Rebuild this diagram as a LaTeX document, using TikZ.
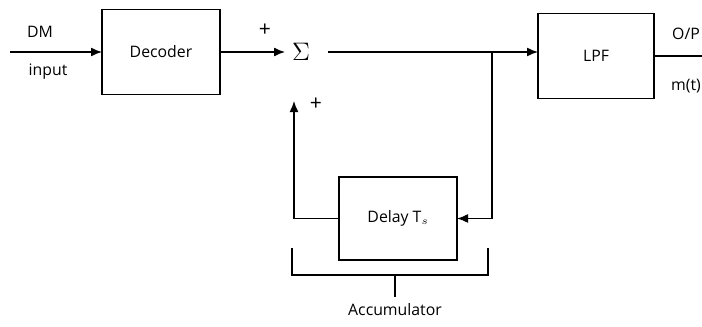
\documentclass[tikz,border=0pt]{standalone}
\usepackage{fontspec}
\setmainfont{Open Sans}
\usepackage{tikz}
\usetikzlibrary{positioning,arrows.meta,calc}

\begin{document}
\begin{tikzpicture}[
  font=\small,
  every node/.style={inner sep=0pt,outer sep=0pt},
  blk/.style={draw,line width=0.8pt,minimum width=2.36cm,
    minimum height=1.70cm,align=center},
  wire/.style={line width=0.8pt},
  sig/.style={wire,-{Latex[length=2.2mm,width=1.8mm]}},
  lbl/.style={font=\small},
]
\useasboundingbox (0,0) rectangle (14.04,6.52);

% blocks
\node[blk](DEC)at(3.22,5.48){Decoder};
\node[font=\Large](SUM)at(6.02,5.48){$\Sigma$};
\node[blk,minimum width=2.32cm](LPF)at(11.92,5.40){LPF};
\node[blk,minimum height=1.66cm](DLY)at(7.96,2.15){Delay T$_s$};

% input side
\coordinate(IN)at(0.20,5.48);
\node[lbl](DM)at(0.80,5.88){DM};
\node[lbl](INP)at(0.96,5.08){input};
\draw[sig](IN)--(DEC.west);
\draw[sig](DEC.east)--([xshift=-4pt]SUM.west);
\node[font=\large](P1)at(5.30,5.92){+};

% forward path
\coordinate(SO)at(6.56,5.48);
\coordinate(JN)at(9.84,5.48);
\draw[sig](SO)--(LPF.west|-SO);
\draw[sig](JN)|-(DLY.east);

% feedback
\coordinate(FB)at(5.88,4.50);
\draw[sig](DLY.west)-|(FB);
\node[font=\large](P2)at(6.32,4.44){+};

% output
\coordinate(OUT)at(14.04,5.40);
\draw[wire](LPF.east)--(OUT);
\node[lbl](OP)at(13.72,5.84){O/P};
\node[lbl](MT)at(13.72,4.80){m(t)};

% accumulator bracket
\coordinate(BL)at(5.84,1.56);
\coordinate(BR)at(9.76,1.56);
\coordinate(BM)at(7.90,1.02);
\draw[wire](BL)|-(BM-|BR)--(BR);
\node[lbl](ACC)at(7.90,0.32){Accumulator};
\draw[wire](BM)--([yshift=4pt]ACC.north);
\end{tikzpicture}
\end{document}
